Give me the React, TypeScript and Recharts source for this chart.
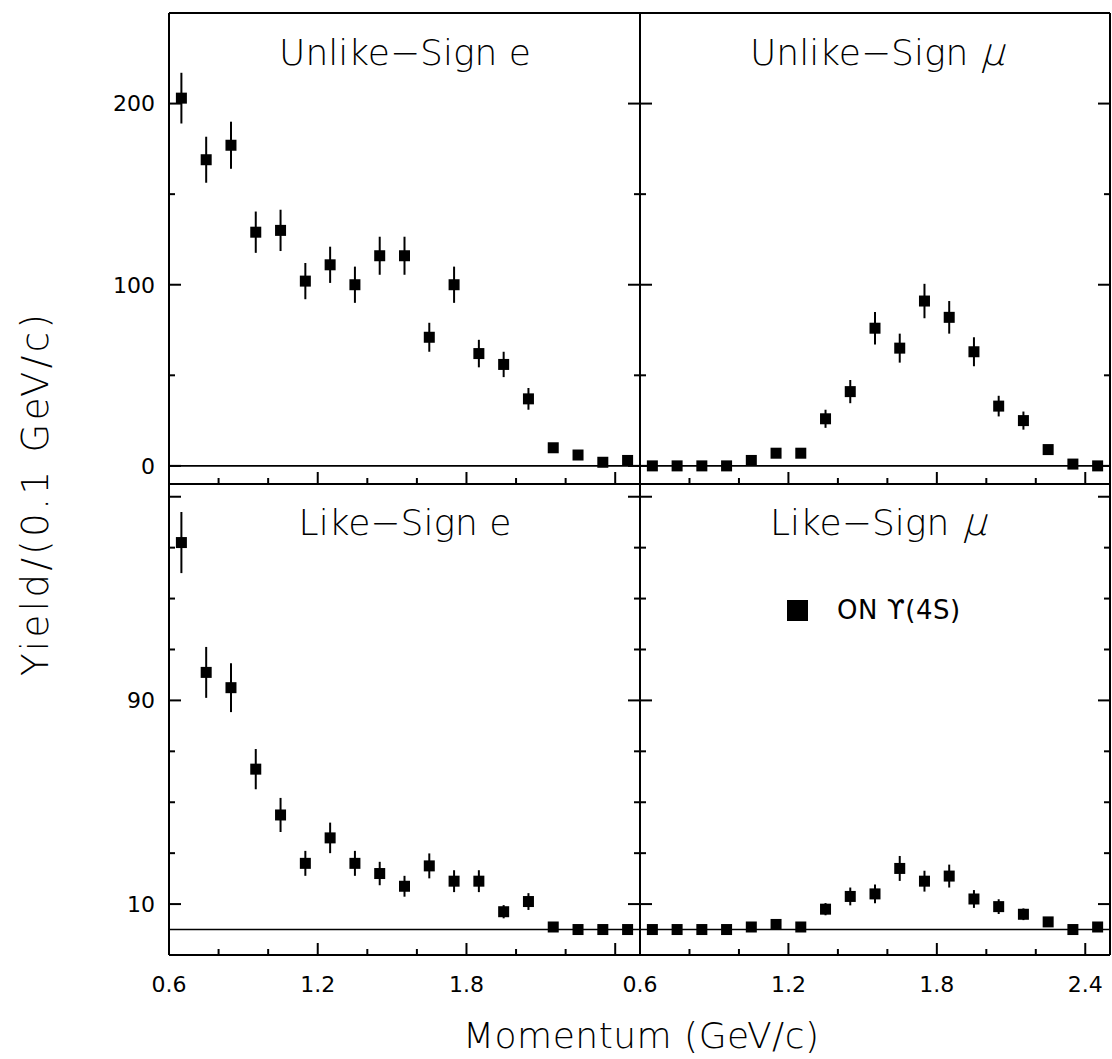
import { ScatterChart, Scatter, XAxis, YAxis, ErrorBar, ReferenceLine, Legend } from 'recharts';

// Bin centres (GeV/c), 0.1 GeV/c wide bins
const momentum = [0.65, 0.75, 0.85, 0.95, 1.05, 1.15, 1.25, 1.35, 1.45, 1.55, 1.65, 1.75, 1.85, 1.95, 2.05, 2.15, 2.25, 2.35, 2.45];

const unlikeE = [203, 169, 177, 129, 130, 102, 111, 100, 116, 116, 71, 100, 62, 56, 37, 10, 6, 2, 3];
const unlikeEErr = [14, 12.7, 13, 11.4, 11.4, 10, 10, 10, 10.5, 10.5, 8, 10, 7.6, 7, 6, 2, 1.5, 1, 1];
const unlikeMu = [0, 0, 0, 0, 3, 7, 7, 26, 41, 76, 65, 91, 82, 63, 33, 25, 9, 1, 0];
const unlikeMuErr = [0, 0, 0, 0, 1.5, 2.5, 2.5, 5, 6.4, 9, 8, 9.5, 9, 8, 5.7, 5, 2, 1, 0];
const likeE = [152, 101, 95, 63, 45, 26, 36, 26, 22, 17, 25, 19, 19, 7, 11, 1, 0, 0, 0];
const likeEErr = [12, 10, 9.6, 7.9, 6.7, 4.9, 6, 4.9, 4.6, 4.1, 4.9, 4.3, 4.3, 2.6, 3.3, 1, 0, 0, 0];
const likeMu = [0, 0, 0, 0, 1, 2, 1, 8, 13, 14, 24, 19, 21, 12, 9, 6, 3, 0, 1];
const likeMuErr = [0, 0, 0, 0, 0.5, 1, 0.5, 2.4, 3.5, 3.7, 4.9, 4.1, 4.5, 3.5, 2.9, 2.3, 1, 0, 0.5];

const xTicks = [0.6, 0.8, 1.0, 1.2, 1.4, 1.6, 1.8, 2.0, 2.2, 2.4];
const xMajors = [0.6, 1.2, 1.8, 2.4];
const topYTicks = [0, 50, 100, 150, 200];
const topYMajors = [0, 100, 200];
const bottomYTicks = [10, 30, 50, 70, 90, 110, 130, 150, 170];
const bottomYMajors = [10, 90, 170];
const bottomYLabels = [10, 90];

const W = 1112;
const H = 1059;
const FONT = '"DejaVu Sans", sans-serif';
const WEIGHT = 200;
const INK = '#000';

type Side = 'top' | 'bottom' | 'left' | 'right';

const near = (list: number[], v: number) => list.some((m) => Math.abs(m - v) < 1e-6);

function makeTick(side: Side, majors: number[], labels: number[]) {
  return (props: any) => {
    const { x, y, payload } = props;
    const v = payload.value as number;
    const len = near(majors, v) ? 12 : 6;
    const showLabel = near(labels, v);
    let line;
    if (side === 'bottom') line = <line x1={x} x2={x} y1={y} y2={y - len} />;
    else if (side === 'top') line = <line x1={x} x2={x} y1={y} y2={y + len} />;
    else if (side === 'left') line = <line x1={x} x2={x + len} y1={y} y2={y} />;
    else line = <line x1={x} x2={x - len} y1={y} y2={y} />;
    return (
      <g stroke={INK} strokeWidth={2}>
        {line}
        {showLabel && side === 'bottom' && (
          <text x={x} y={y + 37} textAnchor="middle" stroke="none" fill={INK} fontFamily={FONT} fontSize={22}>
            {Number.isInteger(v) ? v : v.toFixed(1)}
          </text>
        )}
        {showLabel && side === 'left' && (
          <text x={x - 14} y={y} dy="0.36em" textAnchor="end" stroke="none" fill={INK} fontFamily={FONT} fontSize={22}>
            {v}
          </text>
        )}
      </g>
    );
  };
}

const Square = (props: any) => {
  const { cx, cy } = props;
  if (cx == null || cy == null) return null;
  return <rect x={cx - 5.5} y={cy - 5.5} width={11} height={11} fill={INK} />;
};

// the hooked upsilon is taken from DejaVu, which carries that glyph
const legendLabel = (name: string) =>
  name.split(/(ϒ)/).map((part, i) =>
    part === 'ϒ' ? <span key={i} style={{ fontFamily: '"DejaVu Sans"' }}>{part}</span> : <span key={i}>{part}</span>,
  );

interface PanelProps {
  values: number[];
  errors: number[];
  rect: { left: number; top: number; right: number; bottom: number };
  yDomain: [number, number];
  yTicks: number[];
  yMajors: number[];
  yLabels: number[];
  xLabels: number[];
  legend?: boolean;
}

function Panel({ values, errors, rect, yDomain, yTicks, yMajors, yLabels, xLabels, legend }: PanelProps) {
  const data = momentum.map((p, i) => ({ p, y: values[i], err: errors[i] }));
  const axisLine = { stroke: INK, strokeWidth: 2 };
  // every axis is 1px thick so the plot area lands exactly on rect
  const margin = { left: rect.left - 1, top: rect.top - 1, right: W - rect.right - 1, bottom: H - rect.bottom - 1 };
  return (
    <div style={{ position: 'absolute', left: 0, top: 0 }}>
      <ScatterChart width={W} height={H} margin={margin}>
        <XAxis
          xAxisId="b"
          orientation="bottom"
          type="number"
          dataKey="p"
          domain={[0.6, 2.5]}
          ticks={xTicks}
          interval={0}
          height={1}
          tickSize={0}
          tickMargin={0}
          tickLine={false}
          axisLine={axisLine}
          tick={makeTick('bottom', xMajors, xLabels)}
          allowDataOverflow
        />
        <XAxis
          xAxisId="t"
          orientation="top"
          type="number"
          domain={[0.6, 2.5]}
          ticks={xTicks}
          interval={0}
          height={1}
          tickSize={0}
          tickMargin={0}
          tickLine={false}
          axisLine={axisLine}
          tick={makeTick('top', xMajors, [])}
          allowDataOverflow
        />
        <YAxis
          yAxisId="l"
          orientation="left"
          type="number"
          dataKey="y"
          domain={yDomain}
          ticks={yTicks}
          interval={0}
          width={1}
          tickSize={0}
          tickMargin={0}
          tickLine={false}
          axisLine={axisLine}
          tick={makeTick('left', yMajors, yLabels)}
          allowDataOverflow
        />
        <YAxis
          yAxisId="r"
          orientation="right"
          type="number"
          domain={yDomain}
          ticks={yTicks}
          interval={0}
          width={1}
          tickSize={0}
          tickMargin={0}
          tickLine={false}
          axisLine={axisLine}
          tick={makeTick('right', yMajors, [])}
          allowDataOverflow
        />
        <ReferenceLine xAxisId="b" yAxisId="l" y={0} stroke={INK} strokeWidth={1.6} />
        <Scatter
          name="ON ϒ(4S)"
          data={data}
          xAxisId="b"
          yAxisId="l"
          fill={INK}
          shape={Square}
          isAnimationActive={false}
        >
          <ErrorBar dataKey="err" direction="y" width={0} stroke={INK} strokeWidth={2} />
        </Scatter>
        {legend && (
          <Legend
            layout="vertical"
            align="center"
            verticalAlign="middle"
            wrapperStyle={{ position: 'absolute', left: 787, top: 596, width: 'auto', height: 'auto' }}
            content={({ payload }: any) => (
              <div style={{ display: 'flex', alignItems: 'center', fontFamily: FONT, fontSize: 26, color: INK, whiteSpace: 'nowrap' }}>
                <span style={{ display: 'inline-block', width: 21, height: 21, background: INK, marginRight: 29 }} />
                <span style={{ lineHeight: '28px', letterSpacing: 0.5 }}>{legendLabel(payload?.[0]?.value ?? 'ON ϒ(4S)')}</span>
              </div>
            )}
          />
        )}
      </ScatterChart>
    </div>
  );
}

const titleStyle = { fontFamily: FONT, fontWeight: WEIGHT, fontSize: 36, fill: INK } as const;

// panel title whose last symbol is a slanted mu in the same light face
const MuTitle = ({ x, y, label, muX }: { x: number; y: number; label: string; muX: number }) => (
  <g>
    <text x={x} y={y} {...titleStyle}>{label}</text>
    <text transform={`translate(${muX} ${y}) skewX(-16)`} {...titleStyle} fontSize={38}>μ</text>
  </g>
);

export default function App() {
  const topRowY: [number, number] = [-10, 250];
  const bottomRowY: [number, number] = [-10, 175];
  return (
    <div style={{ position: 'absolute', left: 0, top: 0, width: W, height: H, background: '#fff' }}>
      <Panel values={unlikeE} errors={unlikeEErr} rect={{ left: 169, top: 13, right: 640, bottom: 484 }}
        yDomain={topRowY} yTicks={topYTicks} yMajors={topYMajors} yLabels={topYMajors} xLabels={[]} />
      <Panel values={unlikeMu} errors={unlikeMuErr} rect={{ left: 640, top: 13, right: 1110, bottom: 484 }}
        yDomain={topRowY} yTicks={topYTicks} yMajors={topYMajors} yLabels={[]} xLabels={[]} />
      <Panel values={likeE} errors={likeEErr} rect={{ left: 169, top: 484, right: 640, bottom: 955 }}
        yDomain={bottomRowY} yTicks={bottomYTicks} yMajors={bottomYMajors} yLabels={bottomYLabels} xLabels={[0.6, 1.2, 1.8]} />
      <Panel values={likeMu} errors={likeMuErr} rect={{ left: 640, top: 484, right: 1110, bottom: 955 }}
        yDomain={bottomRowY} yTicks={bottomYTicks} yMajors={bottomYMajors} yLabels={[]} xLabels={xMajors} legend />
      <svg width={W} height={H} style={{ position: 'absolute', left: 0, top: 0, pointerEvents: 'none' }}>
        <text x={405} y={65} textAnchor="middle" {...titleStyle}>Unlike−Sign e</text>
        <MuTitle x={750} y={65} label="Unlike−Sign" muX={980} />
        <text x={405} y={535} textAnchor="middle" {...titleStyle}>Like−Sign e</text>
        <MuTitle x={770} y={535} label="Like−Sign" muX={962} />
        <text x={48} y={495} textAnchor="middle" transform="rotate(-90 48 495)" textLength={362} lengthAdjust="spacing" {...titleStyle} fontSize={37}>
          Yield/(0.1 GeV/c)
        </text>
        <text x={641} y={1048} textAnchor="middle" textLength={356} lengthAdjust="spacing" {...titleStyle} fontSize={36}>
          Momentum (GeV/c)
        </text>
      </svg>
    </div>
  );
}
